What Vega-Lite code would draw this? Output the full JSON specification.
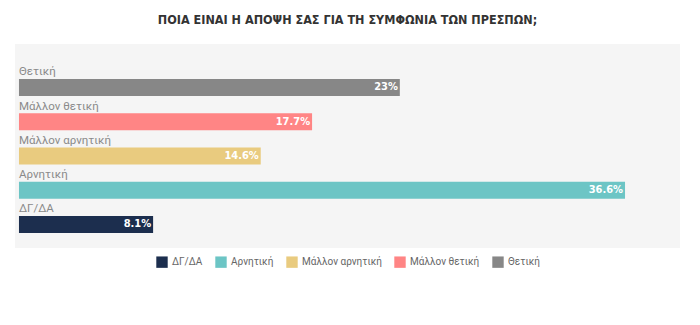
{
  "$schema": "https://vega.github.io/schema/vega-lite/v6.json",
  "width": 665,
  "height": 204,
  "padding": {"left": 15, "right": 20, "top": 13, "bottom": 5},
  "background": "white",
  "title": {
    "text": "ΠΟΙΑ ΕΙΝΑΙ Η ΑΠΟΨΗ ΣΑΣ ΓΙΑ ΤΗ ΣΥΜΦΩΝΙΑ ΤΩΝ ΠΡΕΣΠΩΝ;",
    "font": "DejaVu Sans Condensed",
    "fontSize": 12.5,
    "fontWeight": "bold",
    "color": "#333333",
    "anchor": "middle",
    "offset": 18
  },
  "config": {
    "view": {"fill": "#f5f5f5", "stroke": null},
    "font": "Roboto",
    "legend": {"layout": {"bottom": {"anchor": "middle"}}}
  },
  "data": {
    "values": [
      {"cat": "Θετική", "value": 23, "label": "23%"},
      {"cat": "Μάλλον θετική", "value": 17.7, "label": "17.7%"},
      {"cat": "Μάλλον αρνητική", "value": 14.6, "label": "14.6%"},
      {"cat": "Αρνητική", "value": 36.6, "label": "36.6%"},
      {"cat": "ΔΓ/ΔΑ", "value": 8.1, "label": "8.1%"}
    ]
  },
  "encoding": {
    "y": {
      "field": "cat",
      "type": "nominal",
      "sort": ["Θετική", "Μάλλον θετική", "Μάλλον αρνητική", "Αρνητική", "ΔΓ/ΔΑ"],
      "scale": {"paddingInner": 0.5, "paddingOuter": 0.728, "align": 0.7},
      "axis": null
    }
  },
  "layer": [
    {
      "mark": {"type": "bar"},
      "encoding": {
        "x": {"field": "value", "type": "quantitative", "scale": {"domain": [-0.24, 39.92], "zero": false, "nice": false}, "axis": null},
        "x2": {"datum": 0},
        "color": {
          "field": "cat",
          "type": "nominal",
          "scale": {
            "domain": ["ΔΓ/ΔΑ", "Αρνητική", "Μάλλον αρνητική", "Μάλλον θετική", "Θετική"],
            "range": ["#1c2e4e", "#6cc5c5", "#e9cb7f", "#ff8585", "#878787"]
          },
          "legend": {
            "title": null,
            "orient": "bottom",
            "direction": "horizontal",
            "symbolType": "square",
            "symbolSize": 130,
            "symbolStrokeWidth": 0,
            "labelFont": "Roboto",
            "labelFontSize": 10,
            "labelColor": "#666666",
            "labelOffset": 4,
            "columnPadding": 12,
            "offset": 8
          }
        }
      }
    },
    {
      "mark": {"type": "text", "align": "right", "baseline": "middle", "dx": -2, "color": "white", "font": "DejaVu Sans Condensed", "fontSize": 11, "fontWeight": "bold"},
      "encoding": {
        "x": {"field": "value", "type": "quantitative"},
        "text": {"field": "label"}
      }
    },
    {
      "mark": {"type": "text", "align": "left", "baseline": "middle", "dy": -15, "color": "#8a8a8a", "font": "Roboto", "fontSize": 11.5},
      "encoding": {
        "x": {"datum": 0},
        "text": {"field": "cat"}
      }
    }
  ]
}
